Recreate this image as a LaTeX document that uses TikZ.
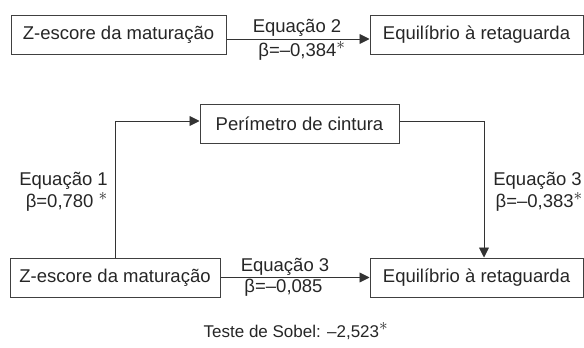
\documentclass[tikz,border=0pt]{standalone}
\usepackage{fontspec}
\setmainfont{Liberation Sans}
\usetikzlibrary{arrows.meta}
\newcommand{\signif}{\smash{$^{\textstyle\ast}$}}

\begin{document}
\begin{tikzpicture}[x=1pt, y=-1pt, font=\fontsize{18.5}{18}\selectfont, text=black!85,
box_style/.style={draw=black!75, line width=1pt, minimum height=39pt, inner sep=0pt},
label_style/.style={inner sep=0pt},
edge_style/.style={draw=black!80, line width=0.9pt, -{Triangle[length=10pt,width=10pt]}}]
\useasboundingbox (0,0) rectangle (584,348);
\node[box_style, minimum width=215pt] (z1) at (118.5,35) {Z-escore da maturação};
\node[box_style, minimum width=213pt] (e1) at (476.5,35) {Equilíbrio à retaguarda};
\node[box_style, minimum width=199pt] (pc) at (299.5,123.5) {Perímetro de cintura};
\node[box_style, minimum width=210pt] (z2) at (115,277.5) {Z-escore da maturação};
\node[box_style, minimum width=213pt] (e2) at (476.5,277.5) {Equilíbrio à retaguarda};

\node[label_style, anchor=base] (eq2) at (297,32) {Equação 2};
\node[label_style, anchor=base] (b2) at (302,56) {β=–0,384\signif};
\node[label_style, anchor=base east] (eq1) at (108,185) {Equação 1};
\node[label_style, anchor=base east] (b1) at (108,207) {β=0,780 \signif};
\node[label_style, anchor=base east] (eq3a) at (582,185) {Equação 3};
\node[label_style, anchor=base east] (b3a) at (583,207) {β=–0,383\signif};
\node[label_style, anchor=base] (eq3b) at (285,271) {Equação 3};
\node[label_style, anchor=base] (b3b) at (283.5,292) {β=–0,085};
\node[label_style, anchor=base, font=\fontsize{17}{18}\selectfont] (sobel) at (296,337) {Teste de Sobel: –2,523\signif};

\draw[edge_style] ([yshift=-4pt]z1.east) -- ([yshift=-4pt]e1.west);
\draw[edge_style] (z2.north) |- ([yshift=2.5pt]pc.west);
\draw[edge_style] ([yshift=2.5pt]pc.east) -| ([xshift=7.5pt]e2.north);
\draw[edge_style] (z2.east) -- (e2.west);
\end{tikzpicture}
\end{document}
